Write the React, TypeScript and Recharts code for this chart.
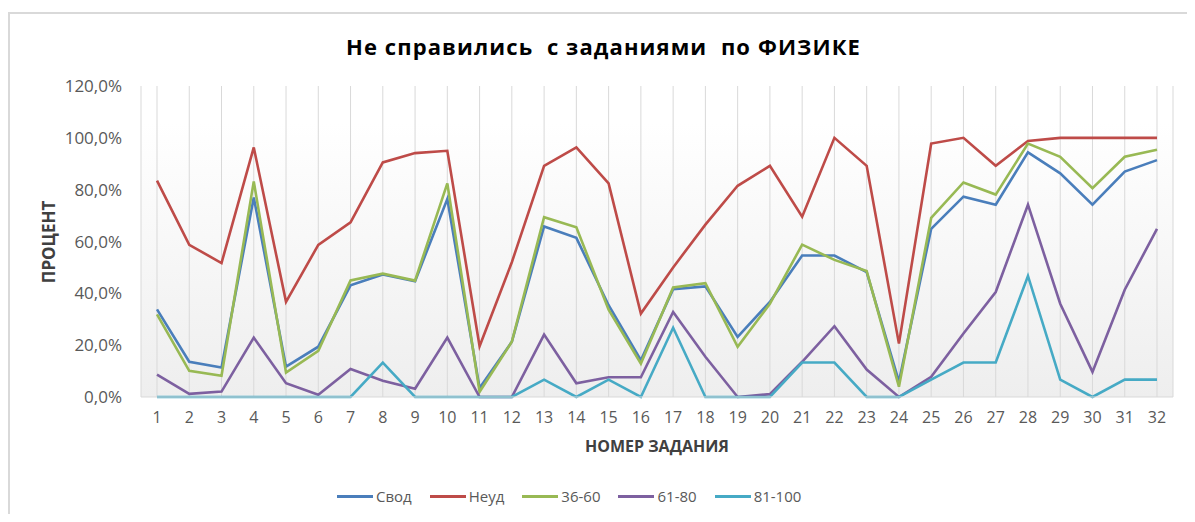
import React from 'react';
import { LineChart, Line, XAxis, YAxis, CartesianGrid, Legend } from 'recharts';

const categories = ['1','2','3','4','5','6','7','8','9','10','11','12','13','14','15','16','17','18','19','20','21','22','23','24','25','26','27','28','29','30','31','32'];
const svod = [33.8, 13.6, 11.4, 77.0, 11.7, 19.4, 43.1, 47.3, 44.7, 76.4, 3.5, 21.3, 65.8, 61.4, 35.4, 14.2, 41.6, 42.7, 23.2, 36.7, 54.6, 54.6, 48.2, 5.9, 64.9, 77.3, 74.2, 94.4, 86.3, 74.2, 87.0, 91.4];
const neud = [83.5, 58.7, 51.7, 96.3, 36.7, 58.7, 67.4, 90.5, 94.1, 95.0, 19.6, 52.0, 89.2, 96.3, 82.4, 32.2, 50.0, 66.5, 81.5, 89.2, 69.6, 100, 89.2, 20.6, 97.8, 100, 89.2, 98.8, 100, 100, 100, 100];
const g3660 = [31.9, 10.1, 8.2, 83.2, 9.4, 17.8, 45.0, 47.6, 44.9, 82.4, 2.0, 21.3, 69.4, 65.5, 33.7, 12.9, 42.3, 43.9, 19.4, 36.0, 58.8, 52.9, 48.6, 4.0, 69.1, 82.8, 78.1, 97.8, 92.7, 80.6, 92.7, 95.4];
const g6180 = [8.6, 1.2, 2.1, 22.9, 5.3, 0.9, 10.8, 6.3, 3.2, 22.9, 0, 0, 24.1, 5.3, 7.6, 7.6, 32.8, 15.5, 0, 1.1, 13.6, 27.3, 10.6, 0, 7.8, 24.5, 40.5, 74.2, 36.0, 9.7, 41.4, 64.9];
const g81100 = [0, 0, 0, 0, 0, 0, 0, 13.3, 0, 0, 0, 0, 6.7, 0, 6.7, 0, 26.7, 0, 0, 0, 13.3, 13.3, 0, 0, 6.7, 13.3, 13.3, 46.7, 6.7, 0, 6.7, 6.7];
const yTicks = [0, 20, 40, 60, 80, 100, 120];

const seriesNames = ['Свод', 'Неуд', '36-60', '61-80', '81-100'];
const seriesColors = ['#4A7EBB', '#BE4B48', '#98B954', '#7D60A0', '#46AAC5'];
const seriesValues = [svod, neud, g3660, g6180, g81100];

const data = categories.map((c, i) => {
  const row: Record<string, string | number> = { cat: c };
  seriesNames.forEach((n, k) => { row[n] = seriesValues[k][i]; });
  return row;
});

const FONT = '"Open Sans", sans-serif';
const fmt = (v: number) => v.toFixed(1).replace('.', ',') + '%';

const LegendContent = (props: any) => {
  const payload = [...(props.payload || [])].sort(
    (a: any, b: any) => seriesNames.indexOf(a.value) - seriesNames.indexOf(b.value)
  );
  return (
    <div style={{ display: 'flex', alignItems: 'center', fontFamily: FONT, fontSize: 15, color: '#595959' }}>
      {payload.map((p: any) => (
        <div key={p.value} style={{ display: 'flex', alignItems: 'center', marginRight: 18 }}>
          <div style={{ width: 36, height: 3, background: p.color, marginRight: 3 }} />
          <span>{p.value}</span>
        </div>
      ))}
    </div>
  );
};

export default function App() {
  return (
    <div style={{ position: 'relative', width: 1179, height: 506, fontFamily: FONT }}>
      <div style={{ position: 'absolute', left: 0, top: 4, width: 1179, height: 502, borderLeft: '2px solid #d9d9d9', borderTop: '2px solid #d9d9d9', boxSizing: 'border-box' }} />
      <div style={{ position: 'absolute', left: 6, top: 23, width: 1179, textAlign: 'center', fontSize: 22, letterSpacing: 1.1, fontWeight: 700, color: '#000', whiteSpace: 'pre' }}>
        {'Не справились  с заданиями  по ФИЗИКЕ'}
      </div>
      <div style={{ position: 'absolute', left: 40, top: 234, width: 0, height: 0 }}>
        <div style={{ position: 'absolute', transform: 'translate(-50%, -50%) rotate(-90deg)', fontSize: 17, fontWeight: 700, color: '#404040', whiteSpace: 'nowrap' }}>ПРОЦЕНТ</div>
      </div>
      <div style={{ position: 'absolute', left: 133, width: 1032, top: 427, textAlign: 'center', fontSize: 16, fontWeight: 700, color: '#404040' }}>
        НОМЕР ЗАДАНИЯ
      </div>
      <div style={{ position: 'absolute', left: 0, top: 0 }}>
        <LineChart width={1179} height={506} data={data} margin={{ top: 78, right: 14, bottom: 87, left: 73 }}>
          <defs>
            <linearGradient id="plotBg" x1="0" y1="0" x2="0" y2="1">
              <stop offset="0" stopColor="#ffffff" />
              <stop offset="0.12" stopColor="#ffffff" />
              <stop offset="1" stopColor="#eeeeee" />
            </linearGradient>
          </defs>
          <CartesianGrid horizontal={false} vertical={true} stroke="#d9d9d9" fill="url(#plotBg)" fillOpacity={1} />
          <XAxis dataKey="cat" interval={0} height={30} padding={{ left: 16, right: 16 }} tickLine={false} tickSize={0} tickMargin={15} axisLine={{ stroke: '#d9d9d9', strokeWidth: 1 }} tick={{ fill: '#595959', fontSize: 16, fontFamily: FONT }} />
          <YAxis width={60} domain={[0, 120]} ticks={yTicks} tickFormatter={fmt} axisLine={false} tickLine={false} tickSize={0} tickMargin={19} tick={{ fill: '#595959', fontSize: 17, fontFamily: FONT }} />
          <Legend verticalAlign="middle" align="center" content={<LegendContent />} wrapperStyle={{ top: 478, left: 329, width: 700 }} />
          {seriesNames.map((n, k) => (
            <Line key={n} type="linear" dataKey={n} name={n} stroke={seriesColors[k]} strokeWidth={2.6} dot={false} activeDot={false} isAnimationActive={false} />
          ))}
        </LineChart>
      </div>
    </div>
  );
}
